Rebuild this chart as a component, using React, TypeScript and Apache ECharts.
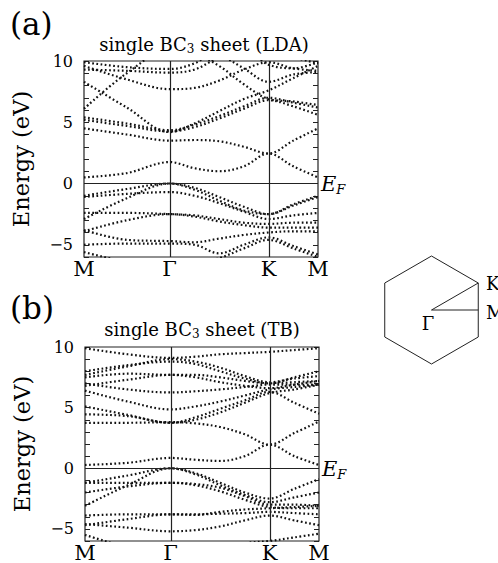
import React, { useEffect, useRef } from 'react';
import * as echarts from 'echarts';

// k-path coordinates (M -> Γ -> K -> M), |MΓ| = √3/2, |ΓK| = 1, |KM| = 1/2
const kPath = [0, 0.433, 0.866, 1.116, 1.366, 1.616, 1.866, 2.116, 2.366];
const kLabelPos = [0, 0.866, 1.866, 2.366];
const kLabels = ['M', 'Γ', 'K', 'M'];
const yMajorLabels = [10, 5, 0, -5];

// (a) LDA bands, energies (eV) at the kPath points
const ldaC1 = [0.5, 0.85, 1.75, 1.25, 1.0, 1.4, 2.45, 1.4, 0.5];
const ldaC2 = [4.5, 4.0, 3.5, 3.55, 3.45, 3.0, 2.45, 3.5, 4.5];
const ldaC3 = [5.2, 4.7, 4.25, 4.6, 5.3, 6.1, 6.8, 6.3, 5.6];
const ldaC4 = [5.4, 4.9, 4.35, 4.8, 5.5, 6.3, 7.0, 6.6, 6.2];
const ldaC5 = [8.3, 6.2, 4.2, 4.9, 5.9, 6.9, 7.6, 8.6, 9.6];
const ldaC6 = [10.8, 10.8, 10.8, 10.6, 9.6, 8.1, 6.9, 6.7, 6.4];
const ldaC7 = [6.1, 9.0, 10.9, 10.9, 10.9, 10.9, 10.9, 10.9, 10.9];
const ldaC8 = [9.6, 8.5, 7.7, 7.8, 8.4, 9.3, 9.9, 9.4, 9.2];
const ldaC9 = [9.3, 9.2, 9.05, 9.3, 10.3, 10.9, 10.9, 10.3, 9.8];
const ldaC10 = [9.9, 9.5, 9.35, 9.8, 10.9, 10.9, 9.7, 9.4, 9.9];
const ldaC11 = [10.9, 10.9, 10.9, 10.9, 10.5, 9.4, 8.3, 8.9, 9.1];
const ldaV1 = [-1.0, -0.45, 0.0, -0.35, -1.1, -1.9, -2.5, -1.7, -1.0];
const ldaV2 = [-2.9, -1.2, 0.0, -0.5, -1.4, -2.2, -2.5, -1.8, -1.1];
const ldaV3 = [-1.1, -0.85, -0.7, -1.0, -1.6, -2.3, -2.9, -2.6, -2.4];
const ldaV4 = [-2.4, -2.4, -2.5, -2.6, -2.9, -3.2, -3.3, -3.2, -3.2];
const ldaV5 = [-3.9, -3.0, -2.5, -2.7, -3.1, -3.4, -3.6, -3.6, -3.6];
const ldaV6 = [-3.8, -4.6, -4.7, -4.8, -4.5, -4.2, -4.0, -3.9, -3.9];
const ldaV7 = [-5.0, -4.9, -4.9, -5.0, -5.7, -5.0, -4.4, -5.1, -5.8];
const ldaV8 = [-5.6, -6.4, -6.8, -6.6, -6.1, -5.3, -4.6, -5.3, -6.0];

// (b) TB bands
const tbC1 = [0.27, 0.45, 0.85, 0.7, 0.6, 1.0, 1.95, 1.0, 0.27];
const tbC2 = [3.75, 3.75, 3.8, 3.7, 3.4, 2.8, 1.95, 2.9, 3.85];
const tbC3 = [4.45, 4.3, 3.75, 4.2, 4.9, 5.6, 6.3, 5.4, 4.5];
const tbC4 = [6.4, 5.5, 4.85, 5.1, 5.5, 6.0, 6.5, 6.7, 6.9];
const tbC5 = [7.0, 6.5, 6.25, 6.35, 6.5, 6.7, 6.9, 6.9, 6.9];
const tbC6 = [7.5, 7.8, 7.7, 7.7, 7.5, 7.2, 7.0, 7.1, 7.2];
const tbC7 = [8.0, 8.5, 8.8, 8.6, 8.0, 7.4, 7.0, 7.5, 8.0];
const tbC8 = [7.7, 8.4, 9.0, 8.8, 8.3, 7.6, 7.1, 7.4, 7.6];
const tbC9 = [9.9, 9.4, 9.1, 9.2, 9.4, 9.5, 9.6, 9.75, 9.9];
const tbC10 = [5.1, 4.4, 3.75, 4.0, 4.6, 5.4, 6.2, 6.5, 6.9];
const tbC11 = [6.8, 7.3, 7.7, 7.5, 7.1, 6.8, 6.6, 6.9, 7.2];
const tbV1 = [-1.2, -0.6, 0.0, -0.4, -1.2, -2.0, -2.5, -1.7, -0.9];
const tbV2 = [-3.1, -1.4, 0.0, -0.5, -1.4, -2.2, -2.8, -2.4, -2.0];
const tbV3 = [-1.2, -1.2, -1.2, -1.3, -1.6, -2.3, -3.0, -3.0, -3.1];
const tbV4 = [-2.0, -1.5, -1.2, -1.4, -1.9, -2.6, -3.2, -3.3, -3.3];
const tbV5 = [-3.9, -3.8, -3.8, -3.8, -3.75, -3.7, -3.6, -3.7, -3.8];
const tbV6 = [-4.6, -4.9, -5.2, -5.1, -4.8, -4.3, -3.9, -4.3, -4.7];
const tbV7 = [-4.7, -4.2, -3.8, -3.85, -3.6, -3.4, -3.3, -3.2, -3.1];
const tbV8 = [-5.5, -6.5, -7.0, -7.0, -6.8, -6.2, -6.0, -5.7, -5.4];

const ldaBands = [ldaC1, ldaC2, ldaC3, ldaC4, ldaC5, ldaC6, ldaC7, ldaC8, ldaC9, ldaC10, ldaC11,
  ldaV1, ldaV2, ldaV3, ldaV4, ldaV5, ldaV6, ldaV7, ldaV8];
const tbBands = [tbC1, tbC2, tbC3, tbC4, tbC5, tbC6, tbC7, tbC8, tbC9, tbC10, tbC11,
  tbV1, tbV2, tbV3, tbV4, tbV5, tbV6, tbV7, tbV8];

const FONT = 'DejaVu Serif';

export default function App() {
  const ref = useRef<HTMLDivElement>(null);
  useEffect(() => {
    if (!ref.current) return;
    const chart = echarts.init(ref.current, undefined, { renderer: 'svg' });

    const grids = [
      { left: 84, top: 61, width: 234, height: 196 },
      { left: 85, top: 347, width: 234, height: 195 },
    ].map((g) => ({ ...g, show: true, borderColor: '#222', borderWidth: 1.2, backgroundColor: 'transparent' }));

    const xAxes = [0, 1].map((i) => ({
      type: 'value', gridIndex: i, min: 0, max: kPath[kPath.length - 1],
      axisLine: { show: false }, axisTick: { show: false }, splitLine: { show: false },
      axisLabel: {
        customValues: kLabelPos, margin: 1, fontFamily: FONT, fontSize: 21, color: '#000',
        showMinLabel: true, showMaxLabel: true,
        formatter: (v: number) => {
          const idx = kLabelPos.findIndex((p) => Math.abs(p - v) < 1e-6);
          return idx >= 0 ? kLabels[idx] : '';
        },
      },
    }));

    const yAxes: any[] = [];
    [0, 1].forEach((gi) => {
      ['left', 'right'].forEach((pos) => {
        yAxes.push({
          type: 'value', gridIndex: gi, position: pos, min: -6, max: 10, interval: 1,
          axisLine: { show: false }, splitLine: { show: false },
          axisTick: { show: true, inside: true, length: 5, lineStyle: { color: '#222', width: 1 } },
          axisLabel: {
            show: pos === 'left', margin: 11, fontFamily: FONT, fontSize: 16, color: '#000',
            formatter: (v: number) => (yMajorLabels.includes(v) ? String(v).replace('-', '\u2212') : ''),
          },
          name: pos === 'left' ? 'Energy (eV)' : '', nameLocation: 'middle', nameGap: 52,
          nameTextStyle: { fontFamily: FONT, fontSize: 22.5, color: '#000' },
        });
      });
    });

    const makeSeries = (bands: number[][], gi: number) =>
      bands.map((b, i) => ({
        type: 'line', xAxisIndex: gi, yAxisIndex: gi * 2, smooth: 0.35, showSymbol: false, clip: true,
        silent: true,
        data: b.map((e, j) => [kPath[j], e]),
        lineStyle: { color: '#111', width: 2.2, type: [1.7, 2.5], cap: 'butt' },
        markLine: i === 0 ? {
          silent: true, symbol: 'none', label: { show: false },
          lineStyle: { color: '#222', width: 1.2, type: 'solid' },
          data: [{ xAxis: kLabelPos[1] }, { xAxis: kLabelPos[2] }, { yAxis: 0 }],
        } : undefined,
      }));

    // Brillouin zone hexagon
    const cx = 431.5, cy = 310, r = 54;
    const hex = [0, 60, 120, 180, 240, 300].map((d) => {
      const t = (d * Math.PI) / 180;
      return [cx + r * Math.sin(t), cy - r * Math.cos(t)];
    });
    const kPt = hex[1];
    const mPt = [kPt[0], cy];

    const titleRich = {
      m: { fontFamily: FONT, fontSize: 18, fill: '#000' },
      s: { fontFamily: FONT, fontSize: 12, fill: '#000', padding: [10, 0, 0, 0] },
    };
    const efRich = {
      e: { fontFamily: FONT, fontSize: 21, fontStyle: 'italic', fill: '#000' },
      f: { fontFamily: FONT, fontSize: 13, fontStyle: 'italic', fill: '#000', padding: [11, 0, 0, 0] },
    };

    chart.setOption({
      animation: false,
      backgroundColor: '#fff',
      grid: grids,
      xAxis: xAxes,
      yAxis: yAxes,
      series: [...makeSeries(ldaBands, 0), ...makeSeries(tbBands, 1)],
      graphic: [
        { type: 'text', x: 10, y: 24, style: { text: '(a)', fontFamily: FONT, fontSize: 31, fill: '#000', verticalAlign: 'middle' } },
        { type: 'text', x: 10, y: 308, style: { text: '(b)', fontFamily: FONT, fontSize: 31, fill: '#000', verticalAlign: 'middle' } },
        { type: 'text', x: 204, y: 44, style: { text: '{m|single BC}{s|3}{m| sheet (LDA)}', rich: titleRich, align: 'center', verticalAlign: 'middle' } },
        { type: 'text', x: 202, y: 329, style: { text: '{m|single BC}{s|3}{m| sheet (TB)}', rich: titleRich, align: 'center', verticalAlign: 'middle' } },
        { type: 'text', x: 321, y: 184, style: { text: '{e|E}{f|F}', rich: efRich, verticalAlign: 'middle' } },
        { type: 'text', x: 322, y: 469, style: { text: '{e|E}{f|F}', rich: efRich, verticalAlign: 'middle' } },
        { type: 'polygon', shape: { points: hex }, style: { fill: 'none', stroke: '#222', lineWidth: 1 } },
        { type: 'line', shape: { x1: cx, y1: cy, x2: kPt[0], y2: kPt[1] }, style: { stroke: '#222', lineWidth: 1 } },
        { type: 'line', shape: { x1: cx, y1: cy, x2: mPt[0], y2: mPt[1] }, style: { stroke: '#222', lineWidth: 1 } },
        { type: 'text', x: 486, y: kPt[1], style: { text: 'K', fontFamily: FONT, fontSize: 18, fill: '#000', verticalAlign: 'middle' } },
        { type: 'text', x: 486, y: mPt[1] + 2, style: { text: 'M', fontFamily: FONT, fontSize: 18, fill: '#000', verticalAlign: 'middle' } },
        { type: 'text', x: 428, y: 323, style: { text: 'Γ', fontFamily: FONT, fontSize: 18, fill: '#000', align: 'center', verticalAlign: 'middle' } },
      ],
    });
    return () => chart.dispose();
  }, []);
  return <div ref={ref} style={{ position: 'fixed', left: 0, top: 0, width: 498, height: 563, background: '#fff' }} />;
}
